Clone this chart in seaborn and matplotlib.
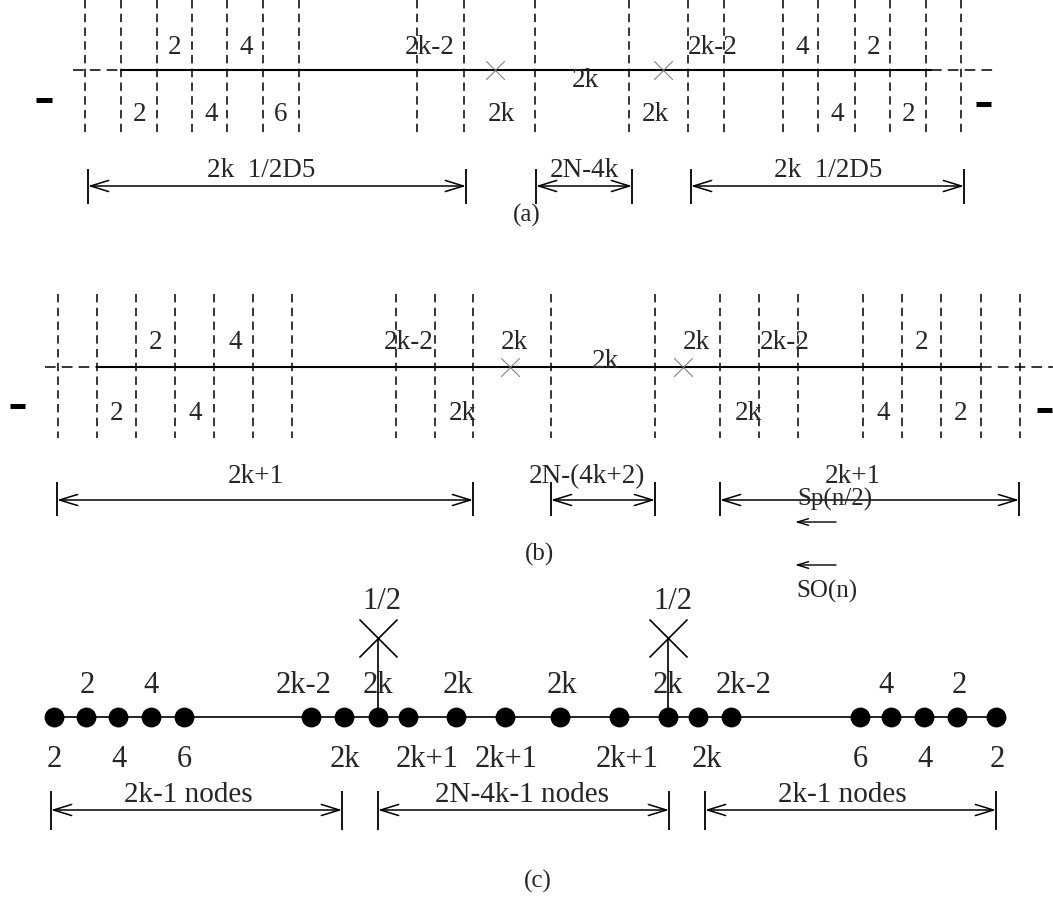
import matplotlib
matplotlib.use("Agg")
import matplotlib.pyplot as plt
import seaborn as sns

sns.set_theme(style="white")
plt.rcParams['font.family'] = ['Liberation Serif', 'DejaVu Serif']

# ---------------- panel (a) ----------------
a_branes = [85, 121, 157, 192, 227, 263, 299, 417, 464,
            535, 629, 688, 724, 783, 818, 855, 890, 926, 961]
a_line = [73, 121, 931, 998]          # dashed start, solid start, solid end, dashed end
a_crosses = [495, 663]
a_top_labels = ['2', '4', '2k-2', '2k-2', '4', '2']
a_top_x = [175, 246, 430, 713, 802, 874]
a_mid_labels = ['2k']
a_mid_x = [585]
a_bot_labels = ['2', '4', '6', '2k', '2k', '4', '2']
a_bot_x = [140, 211, 281, 501, 655, 837, 909]
a_minus = [[36, 52, 100], [976, 991, 104]]
a_dim_from = [88, 536, 691]
a_dim_to = [466, 632, 964]
a_dim_labels = ['2k  1/2D5', '2N-4k', '2k  1/2D5']
a_dim_label_x = [261, 584, 828]

# ---------------- panel (b) ----------------
b_branes = [58, 97, 136, 175, 214, 253, 292, 396, 435, 473,
            551, 655, 720, 759, 798, 863, 902, 941, 981, 1020]
b_line = [45, 97, 981, 1053]
b_crosses = [510, 683]
b_top_labels = ['2', '4', '2k-2', '2k', '2k', '2k-2', '2']
b_top_x = [156, 235, 409, 514, 696, 785, 922]
b_mid_labels = ['2k']
b_mid_x = [605]
b_bot_labels = ['2', '4', '2k', '2k', '4', '2']
b_bot_x = [117, 195, 462, 748, 883, 961]
b_minus = [[10, 25, 406], [1037, 1052, 410]]
b_dim_from = [57, 551, 720]
b_dim_to = [473, 655, 1019]
b_dim_labels = ['2k+1', '2N-(4k+2)', '2k+1']
b_dim_label_x = [256, 587, 853]

# ---------------- panel (c) ----------------
c_nodes = [54, 86, 118, 151, 184, 311, 344, 378, 408, 456, 505,
           560, 619, 668, 698, 731, 860, 891, 924, 957, 996]
c_stems = [378, 668]
c_half = ['1/2', '1/2']
c_half_x = [382, 673]
c_top_labels = ['2', '4', '2k-2', '2k', '2k', '2k', '2k', '2k-2', '4', '2']
c_top_x = [87, 151, 304, 378, 458, 562, 668, 744, 886, 959]
c_bot_labels = ['2', '4', '6', '2k', '2k+1', '2k+1', '2k+1', '2k', '6', '4', '2']
c_bot_x = [54, 119, 184, 345, 427, 506, 627, 707, 860, 925, 997]
c_dim_from = [51, 378, 705]
c_dim_to = [342, 669, 996]
c_dim_labels = ['2k-1 nodes', '2N-4k-1 nodes', '2k-1 nodes']
c_dim_label_x = [188, 522, 842]

fig = plt.figure(figsize=(10.53, 8.97), dpi=100)
ax = fig.add_axes([0, 0, 1, 1])
ax.set_xlim(0, 1053)
ax.set_ylim(897, 0)
ax.axis('off')

FS_AB = 19.5
FS_C = 22


def brane_panel(branes, y0, y1, line, line_y, crosses, top, top_x, top_y,
                mid, mid_x, mid_y, bot, bot_x, bot_y, minus):
    ax.vlines(branes, y0, y1, colors='black', lw=1.1, linestyles=(0, (5.5, 3.5)))
    ax.plot([line[0], line[1]], [line_y, line_y], color='black', lw=1.1,
            dashes=(7, 4))
    ax.plot([line[1], line[2]], [line_y, line_y], color='black', lw=1.5)
    ax.plot([line[2], line[3]], [line_y, line_y], color='black', lw=1.1,
            dashes=(7, 4))
    sns.scatterplot(x=crosses, y=[line_y] * len(crosses), ax=ax, marker='x',
                    s=180, color='0.45', linewidth=0.7, legend=False, zorder=4)
    for t, x in zip(top, top_x):
        ax.text(x, top_y, t, ha='center', va='baseline', fontsize=FS_AB)
    for t, x in zip(mid, mid_x):
        ax.text(x, mid_y, t, ha='center', va='baseline', fontsize=FS_AB)
    for t, x in zip(bot, bot_x):
        ax.text(x, bot_y, t, ha='center', va='baseline', fontsize=FS_AB)
    for x0, x1, y in minus:
        ax.plot([x0, x1], [y, y], color='black', lw=3.6, solid_capstyle='butt')


def dims(froms, tos, labels, label_x, y, tick0, tick1, label_y, fs):
    for x0, x1, t, tx in zip(froms, tos, labels, label_x):
        ax.annotate('', xy=(x1, y), xytext=(x0, y),
                    arrowprops=dict(arrowstyle='<->,head_length=0.65,head_width=0.2',
                                    lw=1.1, color='black', shrinkA=0, shrinkB=0,
                                    mutation_scale=20))
        ax.vlines([x0, x1], tick0, tick1, colors='black', lw=1.3)
        ax.text(tx, label_y, t, ha='center', va='baseline', fontsize=fs)


def small_arrow(x0, x1, y):
    ax.annotate('', xy=(x1, y), xytext=(x0, y),
                arrowprops=dict(arrowstyle='->,head_length=0.4,head_width=0.12',
                                lw=1.0, color='black', shrinkA=0, shrinkB=0,
                                mutation_scale=20))


# (a)
brane_panel(a_branes, 0, 137, a_line, 70, a_crosses, a_top_labels, a_top_x, 54,
            a_mid_labels, a_mid_x, 87, a_bot_labels, a_bot_x, 121, a_minus)
dims(a_dim_from, a_dim_to, a_dim_labels, a_dim_label_x, 186, 169, 204, 177, FS_AB)
ax.text(527, 222, '(a)', ha='center', va='baseline', fontsize=18)

# (b)
brane_panel(b_branes, 294, 438, b_line, 367, b_crosses, b_top_labels, b_top_x, 349,
            b_mid_labels, b_mid_x, 368, b_bot_labels, b_bot_x, 420, b_minus)
dims(b_dim_from, b_dim_to, b_dim_labels, b_dim_label_x, 500, 482, 516, 483, FS_AB)
ax.text(835, 506, 'Sp(n/2)', ha='center', va='baseline', fontsize=18)
small_arrow(836, 795, 522)
ax.text(540, 561, '(b)', ha='center', va='baseline', fontsize=18)

small_arrow(836, 795, 565)
ax.text(827, 598, 'SO(n)', ha='center', va='baseline', fontsize=18)

# (c)
node_y = 717
ax.plot([c_nodes[0], c_nodes[-1]], [node_y, node_y], color='black', lw=1.2, zorder=1)
ax.vlines(c_stems, 638, node_y, colors='black', lw=1.2)
sns.scatterplot(x=c_stems, y=[638] * len(c_stems), ax=ax, marker='x', s=750,
                color='black', linewidth=1.2, legend=False, zorder=3)
sns.scatterplot(x=c_nodes, y=[node_y] * len(c_nodes), ax=ax, s=175, color='black',
                edgecolor='black', legend=False, zorder=3)
for t, x in zip(c_half, c_half_x):
    ax.text(x, 609, t, ha='center', va='baseline', fontsize=FS_C)
for t, x in zip(c_top_labels, c_top_x):
    ax.text(x, 693, t, ha='center', va='baseline', fontsize=FS_C)
for t, x in zip(c_bot_labels, c_bot_x):
    ax.text(x, 767, t, ha='center', va='baseline', fontsize=FS_C)
dims(c_dim_from, c_dim_to, c_dim_labels, c_dim_label_x, 810, 791, 830, 802, 21)
ax.text(538, 888, '(c)', ha='center', va='baseline', fontsize=18)

fig.savefig('out.png', dpi=100)
